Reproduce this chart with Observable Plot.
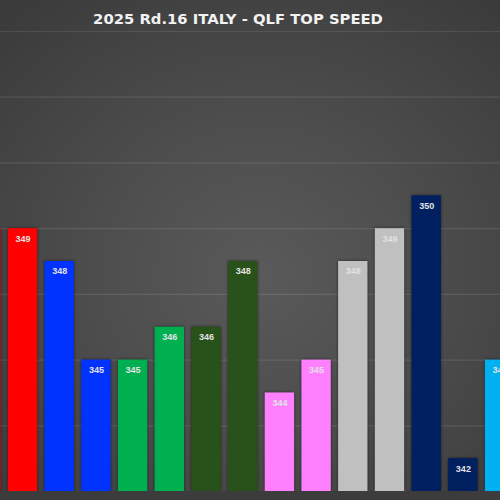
<!DOCTYPE html>
<html>
<head>
<meta charset="utf-8">
<script src="https://cdn.jsdelivr.net/npm/d3@7"></script>
<script src="https://cdn.jsdelivr.net/npm/@observablehq/plot@0.6"></script>
<style>
  html, body { margin: 0; padding: 0; background: #3a3a3a; }
  #wrap {
    width: 500px; height: 500px; overflow: hidden; position: relative;
    background: radial-gradient(ellipse 75% 70% at 52% 55%, #5a5a5a 0%, #4d4d4d 45%, #3b3b3b 100%);
  }
  #title {
    height: 30px; box-sizing: border-box; padding-top: 10px; padding-right: 24px;
    line-height: 17px; text-align: center; color: #f2f2f2;
    font-family: "DejaVu Sans", sans-serif; font-weight: bold; font-size: 14.8px;
    white-space: nowrap;
  }
  #chart svg { display: block; overflow: hidden; background: transparent; }
  #chart g[aria-label="bar"] rect { filter: drop-shadow(0px 0px 1.5px rgba(0,0,0,0.55)); }
  #strip { height: 9px; background: #3c3c3c; }
</style>
</head>
<body>
<div id="wrap">
  <div id="title">2025 Rd.16 ITALY - QLF TOP SPEED</div>
  <div id="chart"></div>
  <div id="strip"></div>
</div>
<script>
const drivers = ["HAM", "LEC", "HAD", "LAW", "HUL", "BOR", "ALO", "STR", "GAS", "COL", "RUS", "ANT", "VER", "TSU", "ALB"];
const speeds  = [349, 349, 348, 345, 345, 346, 346, 348, 344, 345, 348, 349, 350, 342, 345];
const colors  = ["#ff0000", "#ff0000", "#0033ff", "#0033ff", "#00b050", "#00b050", "#29521a", "#29521a",
                 "#ff80ff", "#ff80ff", "#c0c0c0", "#c0c0c0", "#002060", "#002060", "#00b0f0"];
const yTicks  = [341, 343, 345, 347, 349, 351, 353, 355];

const data = drivers.map((d, i) => ({driver: d, speed: speeds[i], color: colors[i]}));

const plot = Plot.plot({
  width: 500,
  height: 461,
  margin: 0,
  style: {background: "transparent", overflow: "hidden"},
  x: {domain: drivers, range: [-36.2, 521.6], padding: 0.2, round: false, axis: null},
  y: {domain: [341, 355], range: [461, 1], axis: null},
  marks: [
    Plot.ruleY(yTicks, {stroke: "#ffffff", strokeOpacity: 0.1, strokeWidth: 1.2}),
    Plot.barY(data, {x: "driver", y1: 341, y2: "speed", fill: "color"}),
    Plot.text(data, {
      x: "driver", y: "speed", text: d => String(d.speed), dy: 10,
      fill: "#e2e2e2", fontSize: 9, fontWeight: "bold",
      fontFamily: "'Liberation Sans', Arial, sans-serif"
    })
  ]
});
document.getElementById("chart").appendChild(plot);
</script>
</body>
</html>
